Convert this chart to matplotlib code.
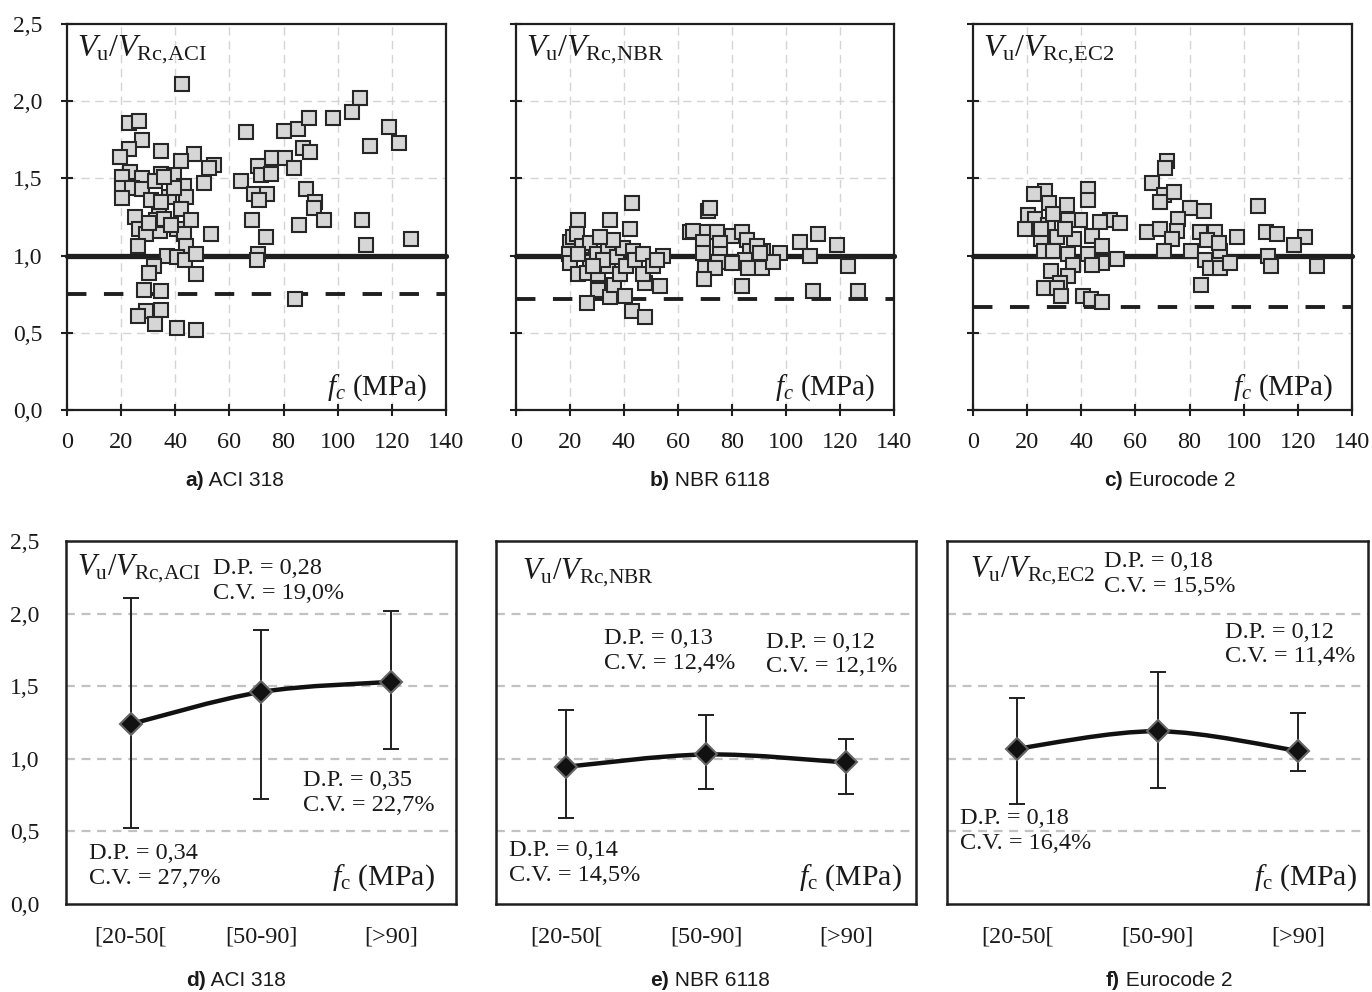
import matplotlib
matplotlib.use("Agg")
import matplotlib.pyplot as plt
from matplotlib.path import Path
from matplotlib.patches import PathPatch
import numpy as np

plt.rcParams["font.family"] = ["Liberation Serif", "DejaVu Serif"]
plt.rcParams["mathtext.fontset"] = "custom"
plt.rcParams["mathtext.rm"] = "Liberation Serif"
plt.rcParams["mathtext.it"] = "Liberation Serif:italic"

# ---- scatter data (fc in MPa, Vu/VRc) ----
aci_fc = [42.6, 108.4, 105.3, 22.8, 26.5, 27.8, 66, 80, 85.2, 89.5, 98.1, 119, 122.8, 112,
          22.8, 34.6, 87, 89.9, 19.5, 46.9, 42, 54.3, 52.5, 75.9, 80.5, 84, 70.4, 71.6, 75.5,
          64.2, 23.1, 20.4, 50.6, 27.8, 34.6, 39.5, 20.4, 24, 27.8, 32.5, 43.2, 88.3, 69.1, 74,
          30.9, 37.7, 43.8, 20.4, 71, 91.6, 91.4, 25.3, 34, 42, 45.7, 95, 108.9, 68.5, 26.5, 29,
          34.3, 40.7, 43.2, 53.3, 85.6, 73.5, 126.9, 110.5, 26.2, 43.8, 37, 40.7, 43.5, 47.5,
          70.4, 70.1, 32.1, 30.2, 47.8, 28.6, 34.6, 84.3, 34.6, 29, 26.2, 32.5, 40.5, 47.5,
          32.7, 35.8, 38.3, 30.2, 34.6, 39.5, 35.8]
aci_ratio = [2.11, 2.02, 1.93, 1.86, 1.87, 1.75, 1.80, 1.81, 1.82, 1.89, 1.89, 1.83, 1.73, 1.71,
             1.69, 1.68, 1.70, 1.67, 1.64, 1.66, 1.61, 1.59, 1.57, 1.63, 1.63, 1.57, 1.58, 1.52, 1.53,
             1.48, 1.54, 1.51, 1.47, 1.50, 1.53, 1.52, 1.44, 1.44, 1.43, 1.48, 1.45, 1.43, 1.40, 1.40,
             1.36, 1.38, 1.38, 1.37, 1.36, 1.35, 1.31, 1.25, 1.27, 1.30, 1.23, 1.23, 1.23, 1.23, 1.17, 1.14,
             1.16, 1.17, 1.14, 1.14, 1.20, 1.12, 1.11, 1.07, 1.06, 1.06, 1.00, 0.99, 0.97, 1.01,
             1.01, 0.97, 0.93, 0.89, 0.88, 0.78, 0.77, 0.72, 0.65, 0.64, 0.61, 0.56, 0.53, 0.52,
             1.23, 1.24, 1.20, 1.21, 1.35, 1.44, 1.51]

nbr_fc = [42.8, 71.2, 71.9, 23.1, 34.8, 42.2, 64.4, 65.7, 70.6, 74.3, 79.9, 83.6, 105.2, 112,
          118.8, 108.9, 123, 110.1, 126.8, 83.8, 69.4, 75.6, 69.4, 75.6, 85.4, 86.7, 91.6, 97.8,
          89.1, 84.8, 79.9, 74.9, 70, 73.7, 69.8, 86, 91, 95, 90.4,
          20, 21.2, 22.5, 19.8, 20, 23.1, 24.3, 27.4, 27.4, 26.2, 29.9, 30.5, 30.5, 26.4, 34.2,
          34.2, 34.8, 36.4, 37.3, 38.5, 39.8, 40.4, 40.9, 43.5, 44.1, 43.1, 47.8, 47.2, 47.8,
          47.2, 50.6, 53.3, 54.6, 52.1, 32.3, 36.0, 31.1, 23.1, 28.6]
nbr_ratio = [1.34, 1.29, 1.31, 1.23, 1.23, 1.17, 1.15, 1.16, 1.15, 1.15, 1.13, 1.15, 1.09, 1.14,
             1.07, 1.00, 0.93, 0.77, 0.77, 0.80, 1.09, 1.08, 1.02, 1.01, 1.10, 1.03, 1.03, 1.02,
             1.06, 0.97, 0.95, 0.96, 0.92, 0.92, 0.85, 0.92, 0.92, 0.96, 1.02,
             1.09, 1.12, 1.14, 1.01, 0.95, 0.88, 1.06, 1.08, 0.96, 0.89, 1.01, 0.88, 0.78, 0.69, 1.06,
             0.93, 0.73, 0.81, 0.99, 0.88, 1.05, 0.74, 0.93, 1.03, 0.97, 0.64, 0.60, 1.01, 0.82,
             0.88, 0.93, 0.80, 1.00, 0.97, 0.97, 1.10, 1.12, 1.01, 0.93]

ec2_fc = [71.6, 71, 66, 70.7, 74.1, 69.1, 42.3, 42.6, 26.5, 22.6, 28, 34.6, 80.2, 85.2, 105.3,
          75.9, 20.4, 22.8, 39.5, 50.6, 54.3, 46.9, 19.1, 27.8, 35.2, 64.2, 69.1, 75.3, 73.5,
          84, 89.5, 86.4, 97.5, 108.4, 112.3, 122.8, 118.5, 70.4, 80.5, 91.4, 90.7, 85.8, 87.7,
          91.4, 95.1, 109, 110.2, 126.9, 84.3, 25.3, 30.9, 37.4, 43.8, 26.2, 29.6, 35.2, 42.3,
          47.5, 53.3, 47.5, 37.0, 43.8, 28.8, 35.2, 32.1, 26.2, 30.9, 32.5, 40.7, 43.6, 47.5,
          25.3, 29.6, 34]
ec2_ratio = [1.61, 1.57, 1.47, 1.39, 1.41, 1.35, 1.43, 1.36, 1.42, 1.40, 1.34, 1.33, 1.31, 1.29, 1.32,
             1.24, 1.26, 1.24, 1.23, 1.23, 1.21, 1.22, 1.17, 1.20, 1.23, 1.15, 1.17, 1.16, 1.11,
             1.15, 1.15, 1.10, 1.12, 1.15, 1.14, 1.12, 1.07, 1.03, 1.03, 1.03, 1.08, 0.97, 0.92,
             0.92, 0.95, 1.00, 0.93, 0.93, 0.81, 1.11, 1.12, 1.11, 1.13, 1.03, 1.03, 1.01, 1.01,
             1.06, 0.98, 0.95, 0.94, 0.94, 0.90, 0.87, 0.82, 0.79, 0.79, 0.74, 0.74, 0.72, 0.70,
             1.17, 1.27, 1.17]

aci_limit = 0.75
nbr_limit = 0.72
ec2_limit = 0.67

# ---- grouped statistics ----
classes = ["[20-50[", "[50-90]", "[>90]"]
aci_mean = [1.24, 1.46, 1.53]
aci_max = [2.11, 1.89, 2.02]
aci_min = [0.52, 0.72, 1.07]
nbr_mean = [0.945, 1.03, 0.975]
nbr_max = [1.335, 1.305, 1.135]
nbr_min = [0.595, 0.79, 0.76]
ec2_mean = [1.07, 1.19, 1.055]
ec2_max = [1.42, 1.60, 1.315]
ec2_min = [0.69, 0.80, 0.915]

aci_notes = ["D.P. = 0,34\nC.V. = 27,7%", "D.P. = 0,28\nC.V. = 19,0%", "D.P. = 0,35\nC.V. = 22,7%"]
nbr_notes = ["D.P. = 0,14\nC.V. = 14,5%", "D.P. = 0,13\nC.V. = 12,4%", "D.P. = 0,12\nC.V. = 12,1%"]
ec2_notes = ["D.P. = 0,18\nC.V. = 16,4%", "D.P. = 0,18\nC.V. = 15,5%", "D.P. = 0,12\nC.V. = 11,4%"]

W, H = 1372, 992
DARK = "#1f1f1f"


def px_axes(fig, x0, x1, y0, y1):
    return fig.add_axes([x0 / W, 1 - y1 / H, (x1 - x0) / W, (y1 - y0) / H])


def comma(v):
    return f"{v:.1f}".replace(".", ",")


def ratio_label(sub):
    return r"$V_{\mathrm{u}}/V_{\mathrm{Rc{,}%s}}$" % sub


def scatter_panel(ax, fc, ratio, limit, sub, show_y):
    ax.set_xlim(0, 140)
    ax.set_ylim(0, 2.5)
    ax.set_xticks(np.arange(0, 141, 20))
    ax.set_yticks(np.arange(0, 2.51, 0.5))
    for v in np.arange(20, 140, 20):
        ax.axvline(v, color="#d4d4d4", lw=1.0, ls=(0, (6, 4)), zorder=0)
    for v in np.arange(0.5, 2.5, 0.5):
        ax.axhline(v, color="#d4d4d4", lw=1.0, ls=(0, (6, 4)), zorder=0)
    ax.plot([0, 140], [1, 1], color=DARK, lw=3.8, solid_capstyle="round",
            clip_on=False, zorder=2)
    ax.plot([0, 140], [limit, limit], color=DARK, lw=2.8, ls=(0, (5, 4.5)), zorder=2)
    ax.plot(fc, ratio, ls="none", marker="s", ms=9.5, mfc="#d6d6d6", mec="#262626",
            mew=1.5, zorder=3)
    ax.tick_params(direction="inout", length=8, width=1.5, color=DARK,
                   labelsize=17.5, labelcolor="#1a1a1a")
    ax.tick_params(axis="x", pad=12)
    ax.tick_params(axis="y", labelsize=17, pad=14)
    ax.set_xticklabels([str(int(v)) for v in np.arange(0, 141, 20)])
    if show_y:
        ax.set_yticklabels([comma(v) for v in np.arange(0, 2.51, 0.5)])
    else:
        ax.set_yticklabels([])
    for s in ax.spines.values():
        s.set_linewidth(1.6)
        s.set_color(DARK)
    ax.text(0.027, 0.975, ratio_label(sub), transform=ax.transAxes,
            ha="left", va="top", fontsize=23, color="#1a1a1a")
    ax.text(0.95, 0.04, r"$f_c$ (MPa)", transform=ax.transAxes, ha="right",
            va="baseline", fontsize=21, color="#1a1a1a")


def smooth_path(x, y):
    verts = [(x[0], y[0])]
    codes = [Path.MOVETO]
    n = len(x)
    for i in range(n - 1):
        p0 = np.array([x[max(i - 1, 0)], y[max(i - 1, 0)]])
        p1 = np.array([x[i], y[i]])
        p2 = np.array([x[i + 1], y[i + 1]])
        p3 = np.array([x[min(i + 2, n - 1)], y[min(i + 2, n - 1)]])
        c1 = p1 + (p2 - p0) / 6
        c2 = p2 - (p3 - p1) / 6
        verts += [tuple(c1), tuple(c2), tuple(p2)]
        codes += [Path.CURVE4] * 3
    return Path(verts, codes)


def stats_panel(ax, mean, vmax, vmin, notes, note_pos, sub, vpos, fpos, show_y):
    x = np.arange(len(classes))
    ax.set_xlim(-0.5, 2.5)
    ax.set_ylim(0, 2.5)
    ax.set_yticks(np.arange(0, 2.51, 0.5))
    for v in np.arange(0.5, 2.5, 0.5):
        ax.axhline(v, color="#c2c2c2", lw=1.6, ls=(0, (4, 3)), zorder=0)
    mean = np.array(mean)
    ax.errorbar(x, mean, yerr=[mean - np.array(vmin), np.array(vmax) - mean], fmt="none",
                ecolor=DARK, elinewidth=1.4, capsize=6, capthick=1.4, zorder=2)
    ax.add_patch(PathPatch(smooth_path(x, mean), fill=False, lw=3.2, ec="#111111", zorder=3))
    ax.plot(x, mean, ls="none", marker="D", ms=11.5, mfc="#111111", mec="#666666",
            mew=1.5, zorder=4)
    ax.set_xticks(x)
    ax.set_xticklabels(classes)
    ax.tick_params(length=0, labelsize=17.5, labelcolor="#1a1a1a", pad=16)
    ax.tick_params(axis="y", pad=19, labelsize=17)
    if show_y:
        ax.set_yticklabels([comma(v) for v in np.arange(0, 2.51, 0.5)])
    else:
        ax.set_yticklabels([])
    for s in ax.spines.values():
        s.set_linewidth(1.8)
        s.set_color(DARK)
    for txt, (nx, ny) in zip(notes, note_pos):
        ax.text(nx, ny, txt, ha="left", va="top", fontsize=17.5, color="#1a1a1a",
                linespacing=1.22)
    ax.text(vpos[0], vpos[1], ratio_label(sub), transform=ax.transAxes,
            ha="left", va="top", fontsize=22, color="#1a1a1a")
    ax.text(fpos, 0.052, r"$f_{\mathrm{c}}$ (MPa)", transform=ax.transAxes, ha="right",
            va="baseline", fontsize=21.5, color="#1a1a1a")


fig = plt.figure(figsize=(W / 100, H / 100), dpi=100)

ax_a = px_axes(fig, 67, 446, 24, 410)
ax_b = px_axes(fig, 516, 894, 24, 410)
ax_c = px_axes(fig, 973, 1352, 24, 410)
scatter_panel(ax_a, aci_fc, aci_ratio, aci_limit, "ACI", True)
scatter_panel(ax_b, nbr_fc, nbr_ratio, nbr_limit, "NBR", False)
scatter_panel(ax_c, ec2_fc, ec2_ratio, ec2_limit, "EC2", False)

ax_d = px_axes(fig, 66, 456, 541, 904)
ax_e = px_axes(fig, 496, 916, 541, 904)
ax_f = px_axes(fig, 947, 1368, 541, 904)
stats_panel(ax_d, aci_mean, aci_max, aci_min, aci_notes,
            [(-0.32, 0.42), (0.63, 2.38), (1.32, 0.92)], "ACI", (0.028, 0.967), 0.946, True)
stats_panel(ax_e, nbr_mean, nbr_max, nbr_min, nbr_notes,
            [(-0.405, 0.44), (0.27, 1.90), (1.43, 1.875)], "NBR", (0.062, 0.956), 0.966, False)
stats_panel(ax_f, ec2_mean, ec2_max, ec2_min, ec2_notes,
            [(-0.405, 0.66), (0.62, 2.43), (1.48, 1.945)], "EC2", (0.055, 0.961), 0.973, False)

# captions: bold tag + regular name, split at the measured x position
captions = [("a)", "ACI 318", 204, 481), ("b)", "NBR 6118", 669, 481),
            ("c)", "Eurocode 2", 1123, 481), ("d)", "ACI 318", 206, 980),
            ("e)", "NBR 6118", 669, 980), ("f)", "Eurocode 2", 1120, 980)]
for tag, name, cx, cy in captions:
    fig.text(cx / W, 1 - cy / H, tag, fontsize=15, fontweight="bold",
             family="Liberation Sans", ha="right", va="center", color="#1a1a1a")
    fig.text(cx / W, 1 - cy / H, " " + name, fontsize=15, family="Liberation Sans",
             ha="left", va="center", color="#1a1a1a")

fig.savefig("out.png", dpi=100)
